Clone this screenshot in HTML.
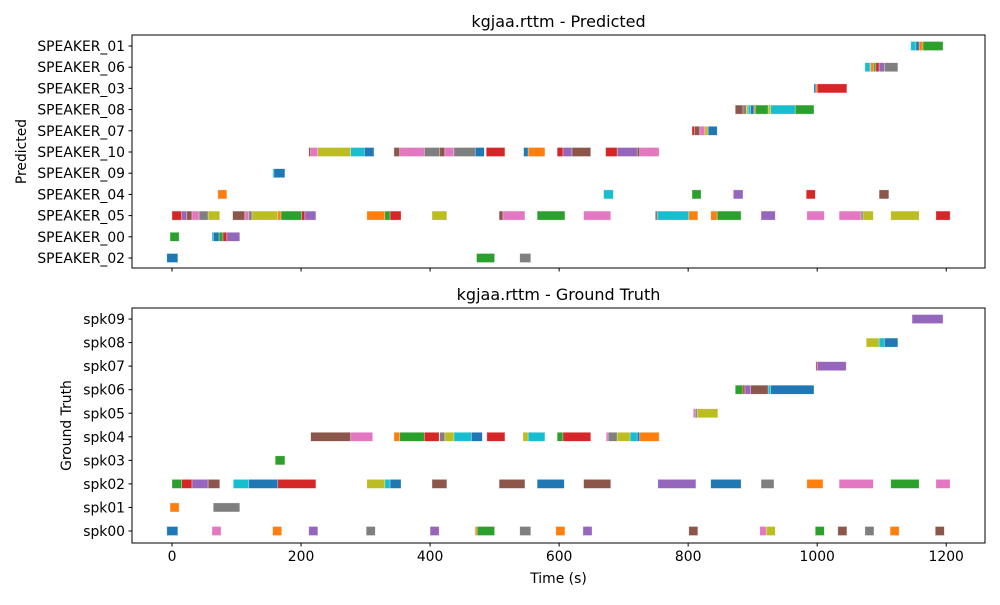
<!DOCTYPE html>
<html><head><meta charset="utf-8"><style>
body{margin:0;background:#fff;}
svg{font-family:"DejaVu Sans","Liberation Sans",sans-serif;}
</style></head><body>
<svg id="chart" width="1000" height="600" xmlns="http://www.w3.org/2000/svg"></svg>
<script>
const colors={b:'#1f77b4',o:'#ff7f0e',g:'#2ca02c',r:'#d62728',p:'#9467bd',n:'#8c564b',k:'#e377c2',y:'#7f7f7f',l:'#bcbd22',c:'#17becf'};
const xTicks=[0,200,400,600,800,1000,1200];
const predCategories=['SPEAKER_02','SPEAKER_00','SPEAKER_05','SPEAKER_04','SPEAKER_09','SPEAKER_10','SPEAKER_07','SPEAKER_08','SPEAKER_03','SPEAKER_06','SPEAKER_01'];
const gtCategories=['spk00','spk01','spk02','spk03','spk04','spk05','spk06','spk07','spk08','spk09'];
const predSegments=[
['SPEAKER_10',212,215,'n'],['SPEAKER_10',215,226,'k'],['SPEAKER_10',226,277,'l'],['SPEAKER_10',277,298,'c'],['SPEAKER_10',298,313,'b'],['SPEAKER_10',344,353,'n'],['SPEAKER_10',353,391,'k'],['SPEAKER_10',391,415,'y'],['SPEAKER_10',415,423,'n'],['SPEAKER_10',423,437,'k'],['SPEAKER_10',437,470,'y'],['SPEAKER_10',470,484,'b'],['SPEAKER_10',487,516,'r'],['SPEAKER_10',545,552,'b'],['SPEAKER_10',552,578,'o'],['SPEAKER_10',597,606,'r'],['SPEAKER_10',606,620,'p'],['SPEAKER_10',620,649,'n'],['SPEAKER_10',672,690,'r'],['SPEAKER_10',690,721,'p'],['SPEAKER_10',721,725,'n'],['SPEAKER_10',725,755,'k'],
['SPEAKER_09',156,158,'c'],['SPEAKER_09',158,175,'b'],
['SPEAKER_04',71,85,'o'],['SPEAKER_04',669,684,'c'],['SPEAKER_04',806,820,'g'],['SPEAKER_04',870,885,'p'],['SPEAKER_04',983,997,'r'],['SPEAKER_04',1096,1111,'n'],
['SPEAKER_05',0,15,'r'],['SPEAKER_05',15,23,'p'],['SPEAKER_05',23,31,'n'],['SPEAKER_05',31,42,'k'],['SPEAKER_05',42,56,'y'],['SPEAKER_05',56,74,'l'],['SPEAKER_05',94,113,'n'],['SPEAKER_05',113,119,'k'],['SPEAKER_05',119,124,'y'],['SPEAKER_05',124,164,'l'],['SPEAKER_05',164,169,'o'],['SPEAKER_05',169,201,'g'],['SPEAKER_05',201,206,'r'],['SPEAKER_05',206,223,'p'],['SPEAKER_05',302,330,'o'],['SPEAKER_05',330,338,'g'],['SPEAKER_05',338,355,'r'],['SPEAKER_05',403,426,'l'],['SPEAKER_05',507,513,'n'],['SPEAKER_05',513,547,'k'],['SPEAKER_05',566,609,'g'],['SPEAKER_05',638,680,'k'],['SPEAKER_05',749,753,'y'],['SPEAKER_05',753,801,'c'],['SPEAKER_05',801,815,'o'],['SPEAKER_05',835,845,'o'],['SPEAKER_05',845,882,'g'],['SPEAKER_05',913,935,'p'],['SPEAKER_05',984,1011,'k'],['SPEAKER_05',1034,1068,'k'],['SPEAKER_05',1068,1071,'y'],['SPEAKER_05',1071,1087,'l'],['SPEAKER_05',1114,1158,'l'],['SPEAKER_05',1184,1206,'r'],
['SPEAKER_00',-3,11,'g'],['SPEAKER_00',62,64,'c'],['SPEAKER_00',64,73,'b'],['SPEAKER_00',73,79,'g'],['SPEAKER_00',79,85,'r'],['SPEAKER_00',85,105,'p'],
['SPEAKER_02',-8,9,'b'],['SPEAKER_02',472,500,'g'],['SPEAKER_02',539,556,'y'],
['SPEAKER_07',806,810,'r'],['SPEAKER_07',810,818,'n'],['SPEAKER_07',818,826,'k'],['SPEAKER_07',826,831,'l'],['SPEAKER_07',831,845,'b'],
['SPEAKER_08',873,885,'n'],['SPEAKER_08',885,890,'y'],['SPEAKER_08',890,893,'l'],['SPEAKER_08',893,897,'c'],['SPEAKER_08',897,902,'b'],['SPEAKER_08',902,904,'o'],['SPEAKER_08',904,924,'g'],['SPEAKER_08',924,928,'l'],['SPEAKER_08',928,966,'c'],['SPEAKER_08',966,995,'g'],
['SPEAKER_03',995,998,'b'],['SPEAKER_03',998,1000,'o'],['SPEAKER_03',1000,1046,'r'],
['SPEAKER_06',1074,1082,'c'],['SPEAKER_06',1082,1083,'b'],['SPEAKER_06',1083,1088,'o'],['SPEAKER_06',1088,1091,'g'],['SPEAKER_06',1091,1096,'r'],['SPEAKER_06',1096,1104,'p'],['SPEAKER_06',1104,1125,'y'],
['SPEAKER_01',1145,1153,'c'],['SPEAKER_01',1153,1158,'b'],['SPEAKER_01',1158,1164,'o'],['SPEAKER_01',1164,1195,'g']
];
const gtSegments=[
['spk04',215,277,'n'],['spk04',277,311,'k'],['spk04',344,353,'o'],['spk04',353,391,'g'],['spk04',391,414,'r'],['spk04',415,423,'y'],['spk04',423,437,'l'],['spk04',437,464,'c'],['spk04',464,481,'b'],['spk04',488,516,'r'],['spk04',544,552,'l'],['spk04',552,578,'c'],['spk04',597,606,'g'],['spk04',606,649,'r'],['spk04',673,676,'k'],['spk04',676,690,'y'],['spk04',690,710,'l'],['spk04',710,721,'c'],['spk04',721,725,'b'],['spk04',725,755,'o'],
['spk03',160,175,'g'],
['spk02',0,15,'g'],['spk02',15,31,'r'],['spk02',31,56,'p'],['spk02',56,74,'n'],['spk02',95,119,'c'],['spk02',119,164,'b'],['spk02',164,223,'r'],['spk02',302,330,'l'],['spk02',330,338,'c'],['spk02',338,355,'b'],['spk02',403,426,'n'],['spk02',507,547,'n'],['spk02',566,608,'b'],['spk02',638,680,'n'],['spk02',753,812,'p'],['spk02',835,882,'b'],['spk02',913,933,'y'],['spk02',984,1009,'o'],['spk02',1034,1087,'k'],['spk02',1114,1158,'g'],['spk02',1184,1206,'k'],
['spk01',-3,11,'o'],['spk01',64,105,'y'],
['spk00',-8,9,'b'],['spk00',62,76,'k'],['spk00',156,170,'o'],['spk00',212,226,'p'],['spk00',301,315,'y'],['spk00',400,414,'p'],['spk00',470,473,'o'],['spk00',473,500,'g'],['spk00',539,556,'y'],['spk00',595,609,'o'],['spk00',637,651,'p'],['spk00',801,815,'n'],['spk00',911,921,'k'],['spk00',921,935,'l'],['spk00',997,1011,'g'],['spk00',1032,1046,'n'],['spk00',1074,1088,'y'],['spk00',1113,1127,'o'],['spk00',1183,1197,'n'],
['spk05',808,811,'k'],['spk05',811,814,'y'],['spk05',814,846,'l'],
['spk06',873,885,'g'],['spk06',885,888,'r'],['spk06',888,897,'p'],['spk06',897,924,'n'],['spk06',924,928,'c'],['spk06',928,995,'b'],
['spk07',998,1000,'r'],['spk07',1000,1045,'p'],
['spk08',1076,1096,'l'],['spk08',1096,1104,'c'],['spk08',1104,1125,'b'],
['spk09',1147,1195,'p']
];
const NS='http://www.w3.org/2000/svg';
const svg=document.getElementById('chart');
function mk(tag,attrs,parent){const e=document.createElementNS(NS,tag);for(const k in attrs)e.setAttribute(k,attrs[k]);(parent||svg).appendChild(e);return e;}
const X0=132,X1=985;
function xs(v){return 172+v*0.6452;}
function panel(cats,segs,top,bottom,firstY,step,title,ylabel,ylabelX,showXLabels,nm){
  const g=mk('g',{});
  
  
  const ys=i=>firstY-i*step;
  segs.forEach(s=>{
    const i=cats.indexOf(s[0]);
    const r=mk('rect',{x:xs(s[1]),y:ys(i)-4.5,width:Math.max(0.5,xs(s[2])-xs(s[1])),height:9,fill:colors[s[3]],stroke:'#fff','stroke-opacity':0.5,'stroke-width':0.6},g);
    
    
  });
  const f=mk('rect',{x:X0,y:top,width:X1-X0,height:bottom-top,fill:'none',stroke:'#000','stroke-width':1},g);
  
  
  cats.forEach((c,i)=>{
    mk('line',{x1:X0-3.5,x2:X0,y1:ys(i),y2:ys(i),stroke:'#000'},g);
    const t=mk('text',{x:X0-7,y:ys(i)+5,'text-anchor':'end','font-size':13.9,fill:'#000'},g);
    t.textContent=c;
    
    
  });
  xTicks.forEach(v=>{
    mk('line',{x1:xs(v),x2:xs(v),y1:bottom,y2:bottom+3.5,stroke:'#000'},g);
    if(showXLabels){
      const t=mk('text',{x:xs(v),y:bottom+18,'text-anchor':'middle','font-size':13.9,fill:'#000'},g);
      t.textContent=v;
      
      
    }
  });
  const tt=mk('text',{x:(X0+X1)/2,y:top-8,'text-anchor':'middle','font-size':16,fill:'#000'},g);
  tt.textContent=title;
  
  
  const yl=mk('text',{x:ylabelX,y:(top+bottom)/2,'text-anchor':'middle','font-size':13.9,fill:'#000',transform:'rotate(-90 '+ylabelX+' '+(top+bottom)/2+')'},g);
  yl.textContent=ylabel;
  
  
}
panel(predCategories,predSegments,35,268,258,21.2,'kgjaa.rttm - Predicted','Predicted',26,false,'predicted');
panel(gtCategories,gtSegments,308,543,531,23.55,'kgjaa.rttm - Ground Truth','Ground Truth',71,true,'ground-truth');
const xl=mk('text',{x:(X0+X1)/2,y:583,'text-anchor':'middle','font-size':13.9,fill:'#000'});
xl.textContent='Time (s)';


</script>
</body></html>
